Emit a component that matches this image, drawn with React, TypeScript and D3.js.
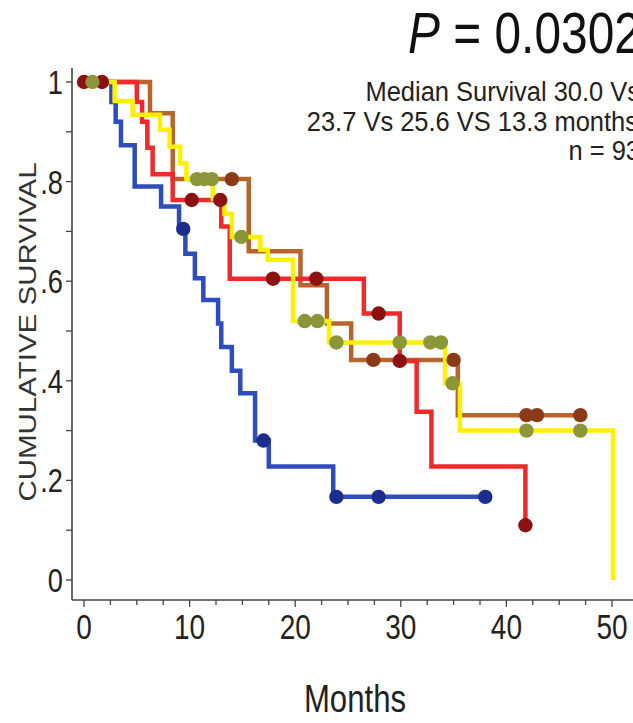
import React from "react";
import * as d3 from "d3";

// Kaplan-Meier steps (months, cumulative survival)
const blueTimes = [0, 2.6, 3.0, 3.5, 4.8, 7.3, 9.0, 9.6, 10.5, 11.3, 12.7, 13.0, 14.0, 14.8, 16.2, 17.5, 23.6];
const blueSurv = [1, 0.96, 0.92, 0.873, 0.79, 0.75, 0.705, 0.655, 0.606, 0.562, 0.515, 0.468, 0.42, 0.375, 0.28, 0.228, 0.167];
const blueCensor = [9.4, 17.0, 23.9, 27.9, 38.0];
const blueEnd = 38;

const redTimes = [0, 5.0, 5.5, 6.0, 6.5, 8.4, 13.0, 13.8, 26.5, 29.9, 31.5, 32.9, 41.8];
const redSurv = [1, 0.96, 0.92, 0.868, 0.815, 0.763, 0.71, 0.605, 0.535, 0.44, 0.338, 0.228, 0.11];
const redCensor = [0, 1.7, 10.2, 12.9, 17.9, 22.0, 27.9, 29.9, 41.8];
const redEnd = 41.8;

const brownTimes = [0, 6.25, 8.4, 15.6, 20.5, 23.0, 25.3, 35.4];
const brownSurv = [1, 0.937, 0.805, 0.66, 0.592, 0.515, 0.442, 0.331];
const brownCensor = [14.0, 27.4, 35.0, 41.9, 42.9, 47.0];
const brownEnd = 47;

const yellowTimes = [0, 2.9, 4.6, 7.2, 8.1, 9.1, 9.7, 12.2, 13.3, 14.0, 16.7, 17.4, 19.8, 23.2, 34.2, 35.6, 50.1];
const yellowSurv = [1, 0.962, 0.934, 0.904, 0.87, 0.837, 0.805, 0.765, 0.735, 0.689, 0.663, 0.643, 0.52, 0.477, 0.395, 0.3, 0];
const yellowCensor = [0.8, 10.7, 11.4, 12.1, 14.9, 20.9, 22.1, 23.9, 29.9, 32.8, 33.8, 34.9, 41.9, 47.0];
const yellowEnd = 50.1;

const xTickLabels = [0, 10, 20, 30, 40, 50];
const yTickLabels = ["0", ".2", ".4", ".6", ".8", "1"];

const groups = [
  { times: blueTimes, surv: blueSurv, censor: blueCensor, end: blueEnd, line: "#2e4cbc", dot: "#1d2d8e" },
  { times: brownTimes, surv: brownSurv, censor: brownCensor, end: brownEnd, line: "#b8642c", dot: "#8a3a16" },
  { times: redTimes, surv: redSurv, censor: redCensor, end: redEnd, line: "#ef2a2a", dot: "#8c1111" },
  { times: yellowTimes, surv: yellowSurv, censor: yellowCensor, end: yellowEnd, line: "#fff000", dot: "#8b953a" },
];

const FONT = "'Liberation Sans', Arial, sans-serif";
const INK = "#222";

export default function App() {
  const width = 633;
  const height = 723;
  const x = d3.scaleLinear().domain([0, 50]).range([84, 612]);
  const y = d3.scaleLinear().domain([0, 1]).range([580, 82]);

  const axisX = 72;
  const axisY = 600;

  const line = d3
    .line<[number, number]>()
    .x((d) => x(d[0]))
    .y((d) => y(d[1]))
    .curve(d3.curveStepAfter);

  const levelAt = (times: number[], surv: number[], t: number) => {
    const i = d3.bisectRight(times, t) - 1;
    return surv[Math.max(0, i)];
  };

  const xMinor = d3.range(0, 50.01, 2.5);
  const yMinor = d3.range(0, 1.001, 0.1);

  return (
    <svg width={width} height={height} style={{ position: "absolute", left: 0, top: 0, background: "#fff" }}>
      {/* axes */}
      <line x1={axisX} x2={axisX} y1={68} y2={axisY} stroke="#444" strokeWidth={1.6} />
      <line x1={axisX} x2={width} y1={axisY} y2={axisY} stroke="#444" strokeWidth={1.6} />
      {yMinor.map((v) => (
        <line key={"yt" + v} x1={axisX - 6} x2={axisX} y1={y(v)} y2={y(v)} stroke="#444" strokeWidth={1.3} />
      ))}
      {xMinor.map((v) => (
        <line key={"xt" + v} x1={x(v)} x2={x(v)} y1={axisY} y2={axisY + (v % 10 === 0 ? 7 : 5)} stroke="#444" strokeWidth={1.3} />
      ))}
      {yTickLabels.map((lab, i) => (
        <text
          key={"yl" + lab}
          transform={`translate(63,${y(i * 0.2) + 12}) scale(0.8,1)`}
          textAnchor="end"
          fontFamily={FONT}
          fontSize={34}
          fill={INK}
        >
          {lab}
        </text>
      ))}
      {xTickLabels.map((v) => (
        <text
          key={"xl" + v}
          transform={`translate(${x(v)},639) scale(0.8,1)`}
          textAnchor="middle"
          fontFamily={FONT}
          fontSize={35}
          fill={INK}
        >
          {v}
        </text>
      ))}
      <text
        transform="translate(355,712) scale(0.82,1)"
        textAnchor="middle"
        fontFamily={FONT}
        fontSize={38}
        fill={INK}
      >
        Months
      </text>
      <text
        transform="translate(36,332) rotate(-90) scale(1,0.8)"
        textAnchor="middle"
        fontFamily={FONT}
        fontSize={29.5}
        fill="#333"
      >
        CUMULATIVE SURVIVAL
      </text>

      {/* curves */}
      {groups.map((g, i) => {
        const pts: [number, number][] = g.times.map((t, k) => [t, g.surv[k]] as [number, number]);
        pts.push([g.end, g.surv[g.surv.length - 1]]);
        return <path key={"c" + i} d={line(pts) || ""} fill="none" stroke={g.line} strokeWidth={4.5} />;
      })}
      {groups.map((g, i) =>
        g.censor.map((t, k) => (
          <circle
            key={"d" + i + "-" + k}
            cx={x(t)}
            cy={y(levelAt(g.times, g.surv, t))}
            r={7.2}
            fill={g.dot}
          />
        ))
      )}

      {/* annotations */}
      <text transform="translate(408,53) scale(0.84,1)" fontFamily={FONT} fontSize={57} fill="#111">
        <tspan fontStyle="italic">P</tspan> = 0.0302
      </text>
      <text transform="translate(640,101) scale(0.91,1)" textAnchor="end" fontFamily={FONT} fontSize={28} fill={INK}>
        Median Survival 30.0 Vs
      </text>
      <text transform="translate(638,131) scale(0.91,1)" textAnchor="end" fontFamily={FONT} fontSize={28} fill={INK}>
        23.7 Vs 25.6 VS 13.3 months
      </text>
      <text transform="translate(640,160) scale(0.91,1)" textAnchor="end" fontFamily={FONT} fontSize={28} fill={INK}>
        n = 93
      </text>
    </svg>
  );
}
